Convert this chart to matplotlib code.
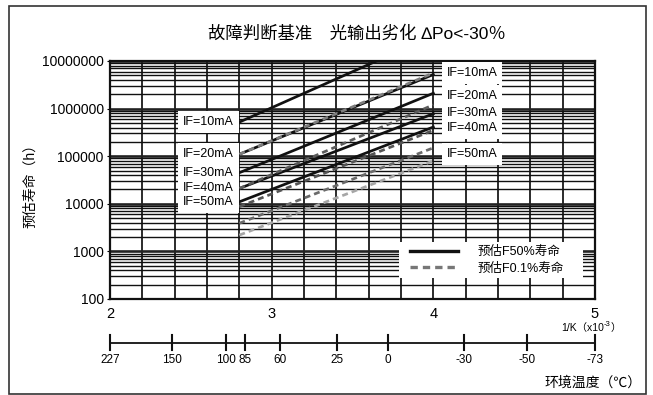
import matplotlib as mpl
mpl.use('Agg')
import numpy as np
import matplotlib.pyplot as plt
import matplotlib.transforms as mtransforms
from matplotlib.lines import Line2D
from matplotlib.patches import Rectangle
from matplotlib.ticker import FixedLocator, LogLocator, NullFormatter

plt.rcParams['font.family'] = ['Liberation Sans', 'Noto Sans CJK SC']

# forward current of each curve
currents = ['IF=10mA', 'IF=20mA', 'IF=30mA', 'IF=40mA', 'IF=50mA']

# 1/K (x10^-3) at both ends of every curve
inv_t = [2.8, 4.0]

# estimated F50% life (h) at the two ends
f50_life = [
    [5.2e5, 3.4e7],
    [1.1e5, 5.2e6],
    [4.5e4, 2.1e6],
    [2.1e4, 7.8e5],
    [1.1e4, 4.1e5],
]

# estimated F0.1% life (h) at the two ends
f01_life = [
    [1.1e5, 5.6e6],
    [2.1e4, 1.2e6],
    [8.7e3, 3.5e5],
    [3.9e3, 1.5e5],
    [2.2e3, 8.0e4],
]
f01_colors = ['#7e7e7e', '#5c5c5c', '#555555', '#6a6a6a', '#a6a6a6']

# life values (h) where the right-hand current labels sit
right_label_life = [5.6e6, 1.84e6, 8.1e5, 3.9e5, 1.11e5]

y_ticks = [100, 1000, 10000, 100000, 1000000, 10000000]
x_ticks = [2, 3, 4, 5]

# ambient temperature scale and its place on the 1/K axis
temp_labels = ['227', '150', '100', '85', '60', '25', '0', '-30', '-50', '-73']
temp_pos = [2.0, 2.384, 2.719, 2.837, 3.054, 3.406, 3.717, 4.19, 4.58, 5.0]

W, H = 653, 395
fig = plt.figure(figsize=(W / 100, H / 100), dpi=100)
ax = fig.add_axes([110 / W, 1 - 299 / H, 485 / W, 238 / H])

ax.set_yscale('log')
ax.set_xlim(2, 5)
ax.set_ylim(100, 1e7)

# grid: every 0.2 on 1/K, full log minors on life
ax.xaxis.set_major_locator(FixedLocator(x_ticks))
ax.xaxis.set_minor_locator(FixedLocator(np.arange(2, 5.01, 0.2)))
ax.yaxis.set_major_locator(FixedLocator(y_ticks))
ax.yaxis.set_minor_locator(LogLocator(base=10, subs=np.arange(2, 10)))
ax.yaxis.set_minor_formatter(NullFormatter())
ax.set_yticklabels([str(v) for v in y_ticks])
ax.set_xticklabels([str(v) for v in x_ticks])

ax.set_axisbelow(True)
ax.grid(which='major', axis='y', color='#222222', lw=1.9)
ax.grid(which='minor', axis='y', color='#111111', lw=1.0)
ax.grid(which='both', axis='x', color='#111111', lw=1.25)

ax.tick_params(axis='y', which='major', length=2.5, pad=2, labelsize=10)
ax.tick_params(axis='y', which='minor', length=0)
ax.tick_params(axis='x', which='both', length=0, pad=6, labelsize=10.5)
for sp in ax.spines.values():
    sp.set_linewidth(1.6)
    sp.set_color('#111111')

dash = (0, (2.2, 1.5))
for i in range(len(currents)):
    ax.plot(inv_t, f50_life[i], color='#111111', lw=1.95, zorder=3)
for i in range(len(currents)):
    ax.plot(inv_t, f01_life[i], color=f01_colors[i], lw=1.95, ls=dash, zorder=4)

# current labels on both sides
box = dict(boxstyle='square,pad=0.4', fc='white', ec='none')
for i, name in enumerate(currents):
    ax.annotate(name, xy=(inv_t[0], f50_life[i][0]), xytext=(-4, 0),
                textcoords='offset points', ha='right', va='center',
                fontsize=9, bbox=box, zorder=6)
    ax.annotate(name, xy=(inv_t[1], right_label_life[i]), xytext=(9.5, 0),
                textcoords='offset points', ha='left', va='center',
                fontsize=9, bbox=box, zorder=6)

# legend on a white patch
ax.add_patch(Rectangle((0.596, 0.088), 0.379, 0.1515, transform=ax.transAxes,
                       fc='white', ec='none', zorder=6))
handles = [Line2D([], [], color='#111111', lw=2.4),
           Line2D([], [], color='#777777', lw=2.4, ls=dash)]
leg = ax.legend(handles, ['预估F50%寿命', '预估F0.1%寿命'], loc='upper left',
                bbox_to_anchor=(0.6186, 0.222), borderaxespad=0, borderpad=0,
                frameon=False, fontsize=9, handlelength=3.8,
                handletextpad=1.6, labelspacing=0.36)
leg.set_zorder(7)

# ambient temperature axis under the plot
trans = mtransforms.blended_transform_factory(ax.transData, fig.transFigure)
y_line = 1 - 343 / H
ax.plot([temp_pos[0], temp_pos[-1]], [y_line, y_line], transform=trans,
        color='#111111', lw=1.3, clip_on=False)
for p, lab in zip(temp_pos, temp_labels):
    ax.plot([p, p], [1 - 335 / H, 1 - 350 / H], transform=trans,
            color='#111111', lw=1.5, clip_on=False)
    ax.text(p, 1 - 360 / H, lab, transform=trans, ha='center', va='center',
            fontsize=8.5)

# 1/K (x10^-3) unit text
t1 = fig.text(561 / W, 1 - 328 / H, '1/K（x10', fontsize=7.5, va='center')
t2 = ax.annotate('-3', xy=(1, 0.8), xycoords=t1, ha='left', va='center',
                 fontsize=5.5, annotation_clip=False)
ax.annotate('）', xy=(1, 0.5), xycoords=(t2, t1), ha='left', va='center',
            fontsize=7.5, annotation_clip=False)

fig.text(642 / W, 1 - 383 / H, '环境温度（℃）', ha='right', va='center',
         fontsize=10)
fig.text(30 / W, 1 - 183 / H, '预估寿命（h）', rotation=90, ha='center',
         va='center', fontsize=10)
fig.text(357 / W, 1 - 34 / H, '故障判断基准　光输出劣化 ∆Po<-30％',
         ha='center', va='center', fontsize=12.5)

# outer frame
fig.add_artist(Rectangle((9 / W, 1 - 394 / H), 637 / W, 388 / H,
                         transform=fig.transFigure, fill=False,
                         ec='#333333', lw=1.2))

fig.savefig('out.png', dpi=100)
